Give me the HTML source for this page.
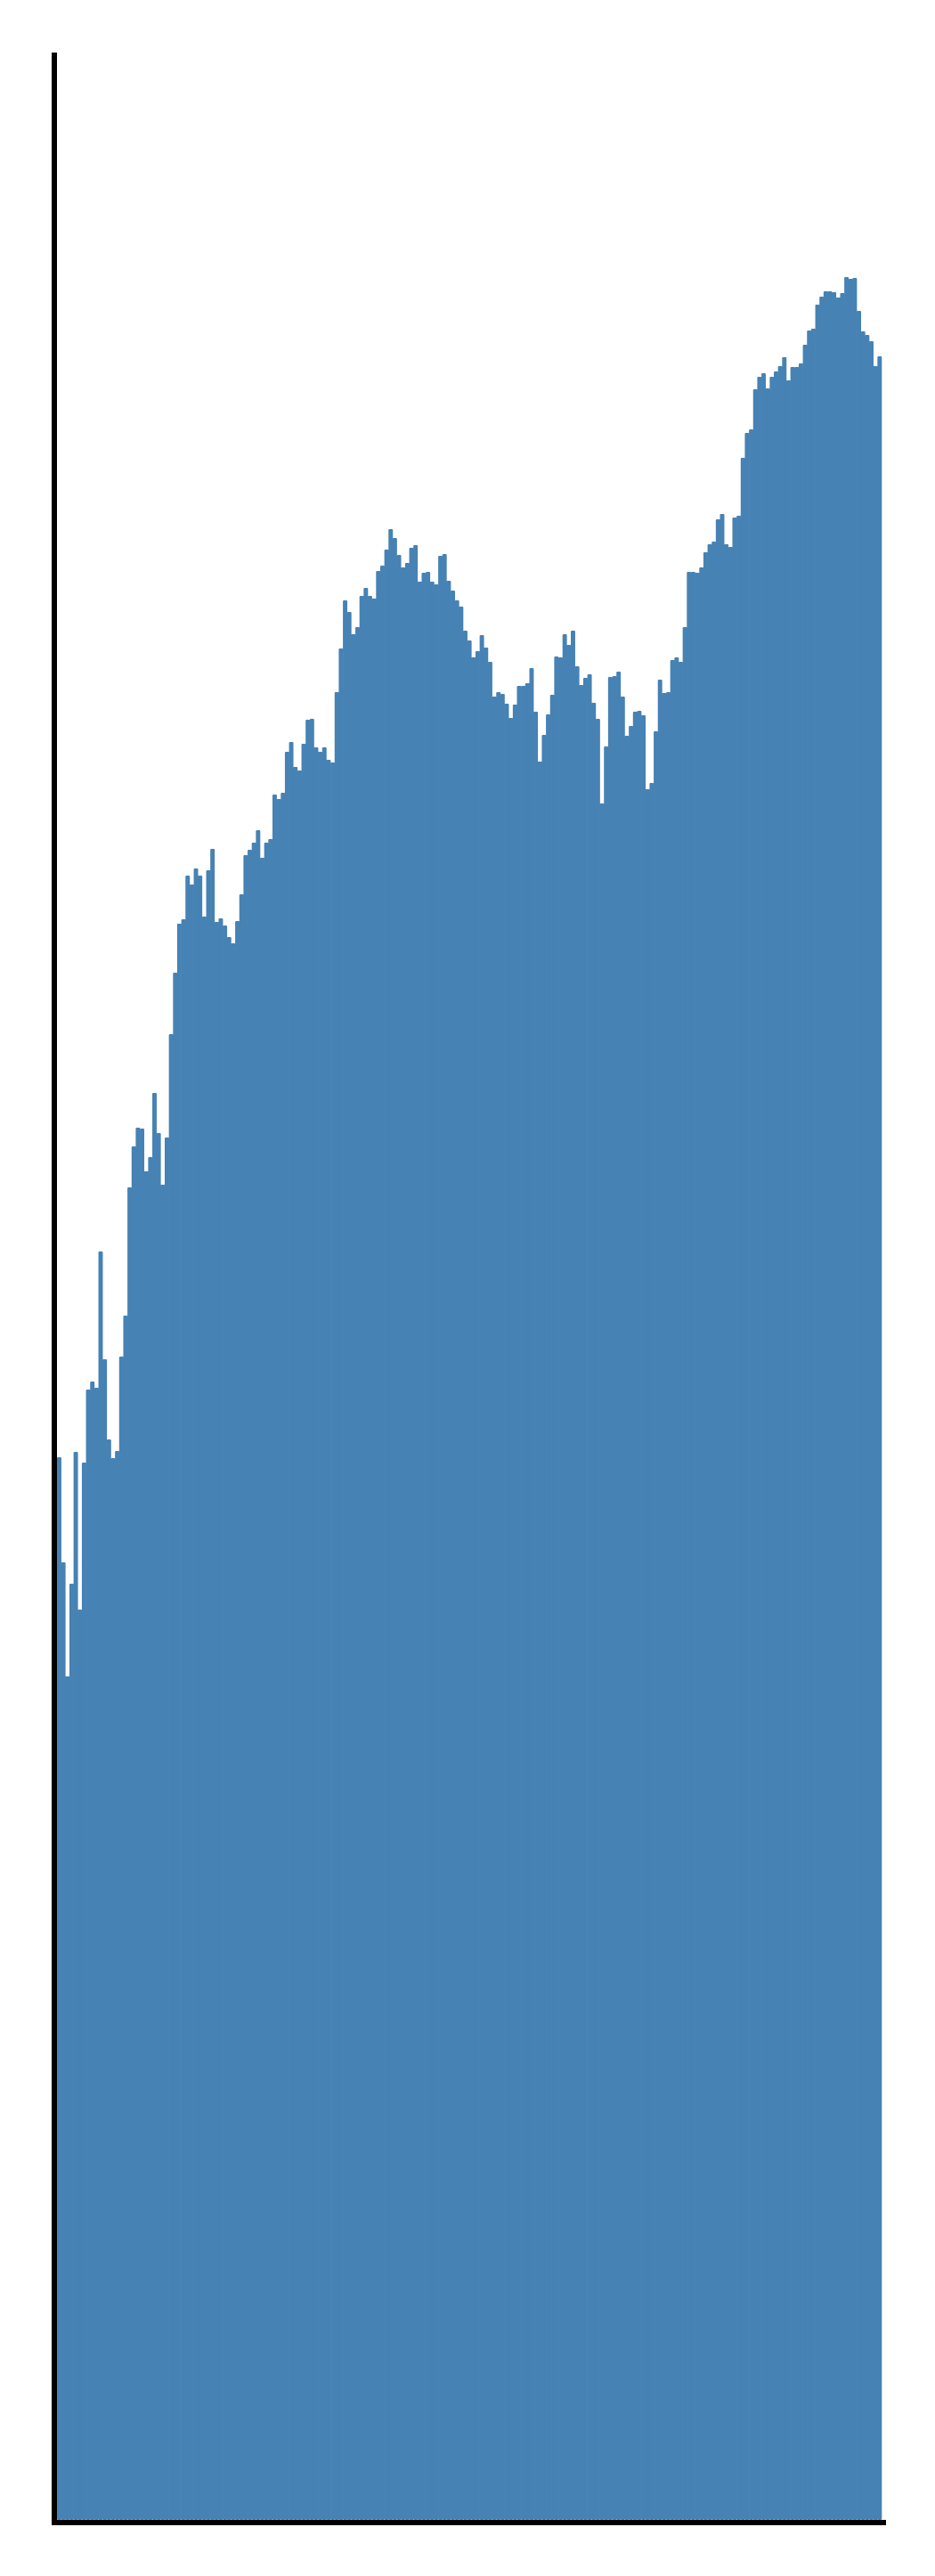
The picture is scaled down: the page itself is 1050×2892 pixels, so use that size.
<!DOCTYPE html>
<html>
<head>
<meta charset="utf-8">
<style>
  html, body { margin: 0; padding: 0; background: #ffffff; }
  body { width: 1050px; height: 2892px; overflow: hidden; font-family: "Liberation Sans", sans-serif; }
  svg { display: block; }
</style>
</head>
<body>
<svg id="chart" width="1050" height="2892" viewBox="0 0 1050 2892" xmlns="http://www.w3.org/2000/svg">
  <g id="bars"></g>
  <line x1="61" y1="59" x2="61" y2="2835" stroke="#000" stroke-width="6"/>
  <line x1="58" y1="2832" x2="995" y2="2832" stroke="#000" stroke-width="6"/>
</svg>
<script>
const binValues = [
1193,1075,947,1051,1199,1022,1187,1269,1278,1271,
1424,1303,1213,1192,1200,1306,1352,1496,1542,1563,
1562,1514,1530,1602,1557,1499,1552,1668,1737,1792,
1797,1846,1836,1854,1846,1800,1852,1876,1794,1798,
1790,1777,1770,1795,1825,1869,1875,1883,1897,1866,
1883,1887,1937,1932,1939,1985,1996,1968,1964,1994,
2021,2022,1990,1985,1990,1976,1973,2052,2101,2155,
2142,2117,2125,2160,2169,2160,2157,2188,2194,2212,
2235,2225,2206,2192,2197,2214,2217,2176,2186,2187,
2176,2173,2205,2207,2177,2166,2155,2148,2121,2110,
2091,2098,2116,2102,2086,2047,2052,2050,2039,2023,
2038,2059,2059,2062,2079,2030,1974,2004,2027,2049,
2092,2091,2117,2105,2121,2081,2060,2068,2072,2040,
2022,1927,1991,2069,2070,2075,2047,2003,2014,2030,
2031,2026,1943,1950,2008,2066,2051,2052,2088,2091,
2086,2125,2187,2187,2186,2192,2209,2218,2221,2246,
2252,2218,2215,2248,2250,2315,2343,2347,2392,2406,
2410,2393,2406,2412,2418,2428,2402,2417,2417,2421,
2442,2458,2460,2487,2496,2502,2502,2501,2495,2500,
2518,2516,2517,2480,2457,2453,2446,2418,2429
];
const yDomainMax = 2770;

const plotLeft = 64, plotRight = 990, plotTop = 59, plotBottom = 2829;
function xScale(i) { return plotLeft + i * (plotRight - plotLeft) / binValues.length; }
function yScale(v) { return plotBottom - v / yDomainMax * (plotBottom - plotTop); }

const g = document.getElementById('bars');
const ns = 'http://www.w3.org/2000/svg';
const bw = (plotRight - plotLeft) / binValues.length;
binValues.forEach(function (v, i) {
  const r = document.createElementNS(ns, 'rect');
  
  
  const x = xScale(i), y = yScale(v);
  r.setAttribute('x', x.toFixed(2));
  r.setAttribute('y', y.toFixed(2));
  r.setAttribute('width', (bw + 0.3).toFixed(2));
  r.setAttribute('height', (plotBottom - y).toFixed(2));
  r.setAttribute('rx', '1.2');
  r.setAttribute('fill', '#4682b4');
  g.appendChild(r);
});
</script>
</body>
</html>
